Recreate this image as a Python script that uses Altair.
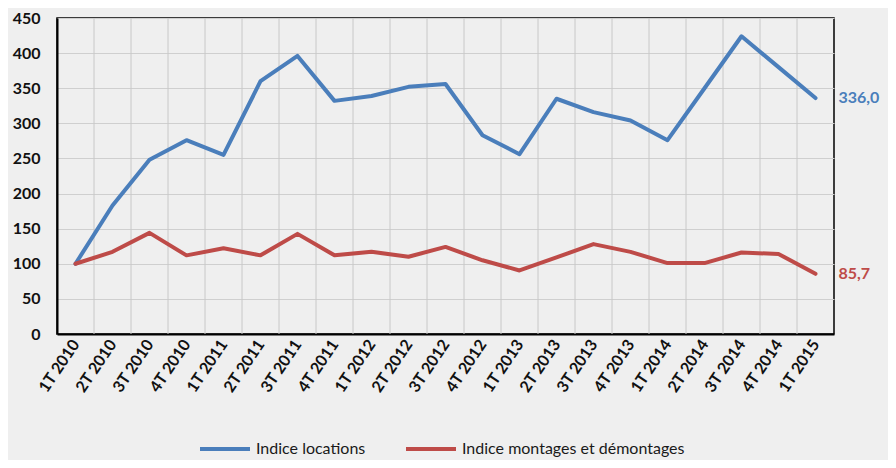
import json
import altair as alt
import pandas as pd

quarters = ["1T 2010", "2T 2010", "3T 2010", "4T 2010", "1T 2011", "2T 2011", "3T 2011",
            "4T 2011", "1T 2012", "2T 2012", "3T 2012", "4T 2012", "1T 2013", "2T 2013",
            "3T 2013", "4T 2013", "1T 2014", "2T 2014", "3T 2014", "4T 2014", "1T 2015"]
locations = [100, 183, 248, 276, 255, 360, 396, 332, 339, 352, 356, 283, 256, 335,
             316, 304, 276, 350, 424, 380, 336.0]
montages = [100, 117, 144, 112, 122, 112, 142.6, 112, 117, 110, 124, 105, 90.5, 109,
            128, 117, 101, 101, 116, 114, 85.7]
series_names = ["Indice locations", "Indice montages et démontages"]
series_colors = ["#4a7ebb", "#be4b48"]
y_ticks = [0, 50, 100, 150, 200, 250, 300, 350, 400, 450]

rows = []
for name, vals in zip(series_names, [locations, montages]):
    for i, (q, v) in enumerate(zip(quarters, vals)):
        rows.append({"idx": i, "quarter": q, "value": v, "series": name})
df = pd.DataFrame(rows)

n = len(quarters)
bounds = pd.DataFrame({"b": [i + 0.5 for i in range(n - 1)]})

FONT = "Lato"
xscale = alt.Scale(domain=[-0.5, n - 0.5], nice=False, zero=False)
yscale = alt.Scale(domain=[0, 450], nice=False)
label_expr = json.dumps(quarters) + "[datum.value]"

xaxis = alt.Axis(
    values=list(range(n)), labelExpr=label_expr, grid=False, ticks=False,
    labelAngle=-56, labelAlign="right", labelBaseline="middle",
    labelPadding=7, labelFont=FONT, labelFontSize=16, labelFontWeight="bold",
    labelColor="#111", domainColor="#000", domainWidth=2, labelOverlap=False,
    labelBound=False, labelFlush=False,
)
yaxis = alt.Axis(
    values=y_ticks, grid=True, gridColor="#cfcfcf", gridWidth=1.2, ticks=False,
    labelPadding=17, labelFont=FONT, labelFontSize=16, labelFontWeight="bold",
    labelColor="#111", domainColor="#000", domainWidth=2, labelOverlap=False,
    labelBound=False, labelFlush=False,
)

vgrid = alt.Chart(bounds).mark_rule(color="#c8c8c8", strokeWidth=1).encode(
    x=alt.X("b:Q", scale=xscale, axis=xaxis, title=None)
)

color = alt.Color(
    "series:N",
    scale=alt.Scale(domain=series_names, range=series_colors),
    legend=alt.Legend(
        title=None, orient="none", legendX=141, legendY=404, direction="horizontal",
        symbolType="stroke", symbolSize=2500, symbolStrokeWidth=4,
        labelFont=FONT, labelFontSize=16, labelColor="#1a1a1a", labelLimit=400,
        labelOffset=4, columnPadding=32,
    ),
)

lines = alt.Chart(df).mark_line(strokeWidth=4, strokeJoin="round", strokeCap="round").encode(
    x=alt.X("idx:Q", scale=xscale, title=None, axis=xaxis),
    y=alt.Y("value:Q", scale=yscale, title=None, axis=yaxis),
    color=color,
    order="idx:Q",
)

last = df[df["idx"] == n - 1]
labels = alt.Chart(last).transform_calculate(
    txt="replace(format(datum.value, '.1f'), '.', ',')"
).mark_text(
    align="left", baseline="middle", dx=23, font=FONT, fontSize=16, fontWeight="bold"
).encode(
    x=alt.X("idx:Q", scale=xscale, title=None, axis=xaxis),
    y=alt.Y("value:Q", scale=yscale, title=None, axis=yaxis),
    text="txt:N",
    fill=alt.Fill("series:N", scale=alt.Scale(domain=series_names, range=series_colors), legend=None),
)

chart = alt.layer(vgrid, lines, labels).properties(
    width=777, height=316,
    autosize=alt.AutoSizeParams(type="none"),
    padding={"left": 49, "top": 10, "right": 54, "bottom": 126},
    background="#efefef",
).configure_view(stroke="#000", strokeWidth=1.5, fill="#efefef")

chart.save("out.html", embed_options={"renderer": "svg", "actions": False})
